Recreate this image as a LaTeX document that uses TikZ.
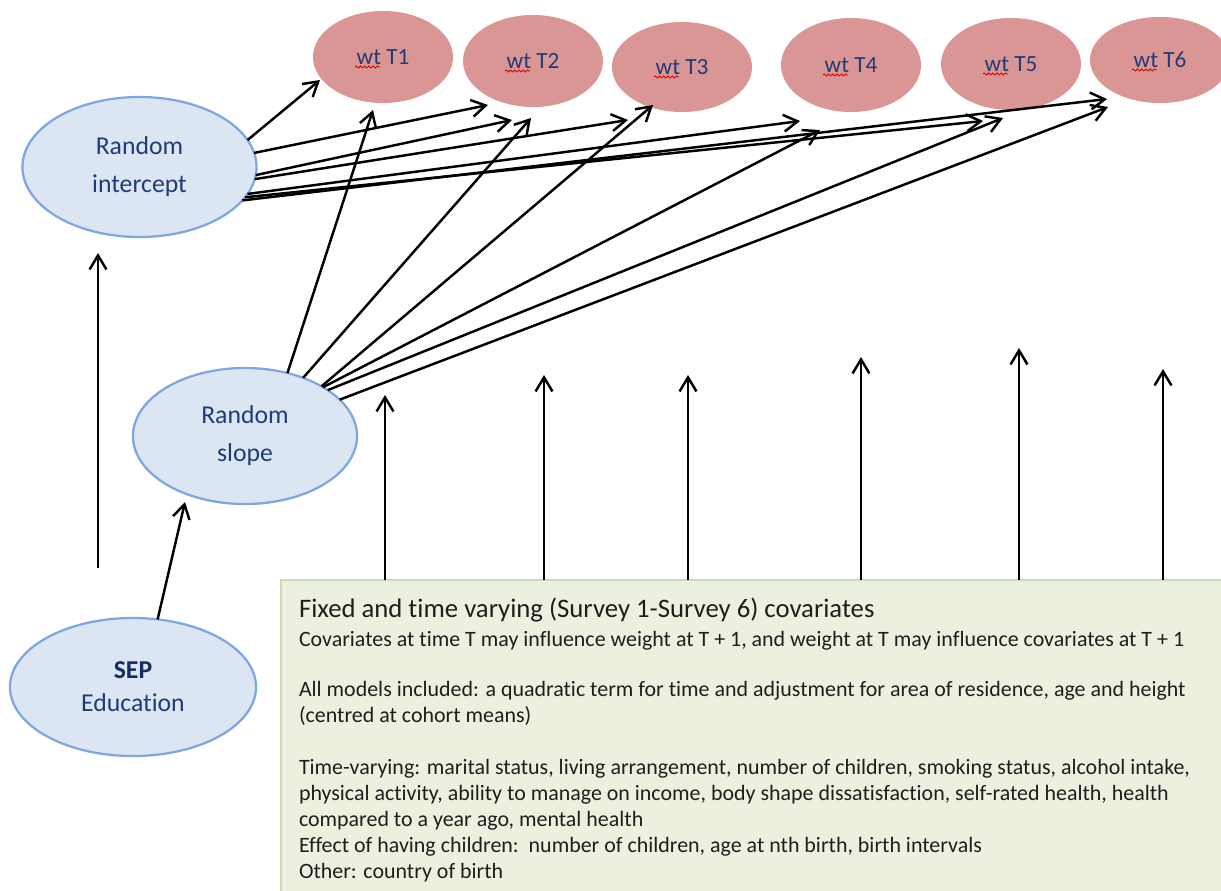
\documentclass[tikz,border=0pt]{standalone}
\usepackage{fontspec}
\setmainfont{Carlito}[Ligatures=NoCommon]
\usetikzlibrary{arrows.meta,shapes.geometric,decorations.pathmorphing}

\definecolor{wtfill}{RGB}{217,150,148}
\definecolor{bluefill}{RGB}{220,230,242}
\definecolor{blueedge}{RGB}{126,166,224}
\definecolor{labelblue}{RGB}{31,60,120}
\definecolor{sepnavy}{RGB}{23,45,95}
\definecolor{boxfill}{RGB}{235,241,222}
\definecolor{boxedge}{RGB}{205,220,175}
\definecolor{boxtext}{RGB}{30,30,30}

\begin{document}
\begin{tikzpicture}[x=0.025cm,y=-0.025cm,
  every node/.style={outer sep=0pt},
  wtnode/.style={ellipse, fill=wtfill, inner sep=0pt,
    minimum width=3.5cm, minimum height=2.3cm,
    text=labelblue, font=\fontsize{16.5}{19}\selectfont},
  latent/.style={ellipse, fill=bluefill, draw=blueedge, line width=1.6pt,
    inner sep=0pt, text=labelblue, align=center,
    font=\fontsize{18.3}{27}\selectfont},
  arr/.style={-{Straight Barb[length=10pt,width=12pt]}, line width=1.75pt},
  squig/.style={draw=red!85!black, line width=0.6pt, decorate,
    decoration={snake, amplitude=0.7pt, segment length=3pt}},
  covbox/.style={fill=boxfill, draw=boxedge, line width=0.8pt},
]
\useasboundingbox (0,0) rectangle (1221,890);

% weight at each survey
\node[wtnode] (t1) at (383,57) {wt T1};
\node[wtnode] (t2) at (533,61) {wt T2};
\node[wtnode, minimum height=2.25cm] (t3) at (682,67) {wt T3};
\node[wtnode, minimum height=2.35cm] (t4) at (851,65) {wt T4};
\node[wtnode] (t5) at (1011,64) {wt T5};
\node[wtnode, minimum height=2.15cm] (t6) at (1160,60) {wt T6};
\foreach \n in {t1,t2,t3,t4,t5,t6}
  \draw[squig] ([shift={(-28,10)}]\n.center) -- ([shift={(-3,10)}]\n.center);

% latent variables and exposure
\node[latent, minimum width=5.85cm, minimum height=3.5cm] (ri) at (139.5,167) {Random\\intercept};
\node[latent, minimum width=5.6cm, minimum height=3.4cm] (rs) at (245,436) {Random\\slope};
\node[latent, minimum width=6.15cm, minimum height=3.45cm,
  font=\fontsize{18.3}{23.5}\selectfont] (sep) at (133,687)
  {{\color{sepnavy}\bfseries SEP}\\Education};

% covariate panel
\node[covbox, anchor=north west, minimum width=23.75cm, minimum height=8cm] (cov) at (281,580) {};
\node[anchor=north west, align=left, inner sep=0pt, text=boxtext,
  font=\fontsize{15.6}{18.6}\selectfont] (covtext) at (299,598)
  {{\fontsize{19}{20}\selectfont Fixed and time varying (Survey 1-Survey 6) covariates}\\[2pt]
   Covariates at time T may influence weight at T + 1, and weight at T may influence covariates at T + 1\\[17pt]
   All models included: a quadratic term for time and adjustment for area of residence, age and height\\
   (centred at cohort means)\\[18pt]
   Time-varying: marital status, living arrangement, number of children, smoking status, alcohol intake,\\
   physical activity, ability to manage on income, body shape dissatisfaction, self-rated health, health\\
   compared to a year ago, mental health\\
   Effect of having children:\ \ number of children, age at nth birth, birth intervals\\
   Other: country of birth};

% arrows from the covariate panel
\coordinate (u1) at (385,395);
\coordinate (u2) at (544,375);
\coordinate (u3) at (688,375);
\coordinate (u4) at (861,357);
\coordinate (u5) at (1019,348);
\coordinate (u6) at (1163,369);
\foreach \u in {u1,u2,u3,u4,u5,u6}
  \draw[arr] (\u |- cov.north) -- (\u);

% exposure arrows
\coordinate (ibase) at (98,568);
\draw[arr] (ibase) -- ([shift={(-41.5,16)}]ri.south);
\draw[arr] (sep.70) -- ([shift={(-60,66)}]rs.center);

% random intercept to weights
\draw[arr] (ri.14)  -- ([shift={(-63,23)}]t1.center);
\draw[arr] (ri.7)   -- ([shift={(-45,44)}]t2.center);
\draw[arr] (ri.-4)  -- ([shift={(-21,59)}]t2.center);
\draw[arr] (ri.-6)  -- ([shift={(-54,53)}]t3.center);
\draw[arr] (ri.-14) -- ([shift={(-51,56)}]t4.center);
\draw[arr] (ri.-16) -- ([shift={(-28,57)}]t5.center);
\draw[arr] (ri.-18) -- ([shift={(-53,39)}]t6.center);

% random slope to weights
\draw[arr] (rs.56) -- ([shift={(-10,53)}]t1.center);
\draw[arr] (rs.45) -- ([shift={(-2,57)}]t2.center);
\draw[arr] (rs.33) -- ([shift={(-29,38)}]t3.center);
\draw[arr] (rs.32) -- ([shift={(-31,65)}]t4.center);
\draw[arr] (rs.29) -- ([shift={(-8,54)}]t5.center);
\draw[arr] (rs.21) -- ([shift={(-52,47)}]t6.center);
\end{tikzpicture}
\end{document}
